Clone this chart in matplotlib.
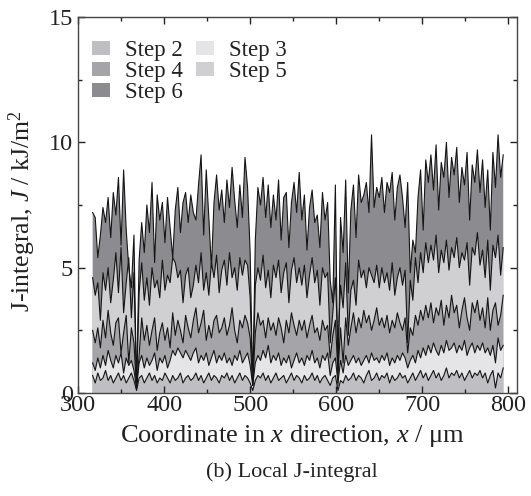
import numpy as np
import matplotlib
matplotlib.use("Agg")
import matplotlib.pyplot as plt
from matplotlib.patches import Patch
from matplotlib.ticker import MultipleLocator

plt.rcParams['font.family'] = ['Liberation Serif', 'DejaVu Serif']
plt.rcParams['mathtext.fontset'] = 'custom'
plt.rcParams['mathtext.rm'] = 'Liberation Serif'
plt.rcParams['mathtext.it'] = 'Liberation Serif:italic'

# ---- data ----
x_start = 317
x_step = 3

step6 = [7.2, 7.0, 5.4, 6.3, 7.4, 6.8, 7.8, 6.2, 8.0, 7.1, 8.6,
         5.9, 8.9, 6.5, 5.0, 4.2, 6.3, 0.2, 5.3, 6.8, 5.6,
         7.5, 6.4, 8.4, 5.2, 7.9, 6.9, 7.6, 6.0, 7.8, 6.6,
         5.4, 7.3, 8.2, 6.4, 7.6, 8.0, 6.8, 7.9, 7.2, 6.9,
         8.3, 9.5, 6.3, 8.9, 7.0, 5.0, 7.6, 8.7, 7.3, 8.1,
         6.8, 8.5, 7.4, 9.0, 7.7, 6.6, 8.3, 7.0, 9.4, 8.2,
         5.6, 0.3, 6.1, 8.2, 7.5, 8.6, 7.0, 8.3, 6.6, 7.9,
         6.9, 8.5, 6.1, 7.8, 8.0, 5.8, 7.6, 8.4, 7.2, 8.8,
         6.9, 7.9, 5.7, 7.4, 8.1, 6.8, 7.1, 5.8, 8.0, 6.9,
         7.6, 4.5, 3.6, 8.3, 0.3, 7.0, 5.6, 8.5, 4.0, 7.3,
         8.3, 6.2, 8.7, 7.6, 7.9, 8.4, 7.2, 10.3, 7.4, 8.2,
         7.8, 8.6, 7.2, 8.4, 8.0, 8.8, 6.9, 8.2, 8.7, 7.8,
         6.6, 8.4, 4.8, 6.1, 5.6, 7.8, 8.9, 6.5, 9.3, 8.4,
         9.5, 8.1, 9.9, 7.3, 9.2, 8.6, 10.0, 7.8, 9.4, 8.7,
         9.8, 7.6, 9.0, 8.3, 9.6, 6.9, 9.1, 8.4, 9.7, 8.0,
         9.3, 7.4, 8.9, 6.5, 9.6, 8.2, 10.3, 8.6, 9.5]

step5 = [4.6, 3.9, 4.4, 2.9, 4.8, 4.1, 5.0, 3.6, 4.5, 5.6, 4.0,
         5.8, 3.2, 4.4, 5.4, 3.0, 4.8, 0.2, 4.0, 5.2, 3.7,
         4.6, 3.5, 5.0, 4.2, 4.5, 3.8, 5.3, 4.1, 4.7, 4.4,
         5.4, 5.2, 4.6, 4.9, 3.6, 4.7, 5.0, 3.8, 4.3, 5.1,
         4.4, 5.6, 4.1, 4.8, 3.9, 5.2, 4.6, 5.5, 4.0, 4.9,
         5.3, 4.3, 5.6, 4.6, 5.0, 4.1, 5.4, 4.7, 5.3, 5.1,
         3.8, 0.3, 4.3, 5.0, 4.5, 5.5, 4.2, 4.9, 3.8, 5.1,
         4.6, 5.3, 4.0, 4.8, 5.2, 3.6, 4.9, 5.4, 4.4, 5.0,
         4.3, 5.1, 3.8, 4.7, 5.4, 4.4, 4.9, 3.5, 5.0, 4.6,
         4.8, 2.0, 3.2, 4.6, 1.8, 4.3, 3.4, 5.2, 2.3, 4.1,
         4.5, 3.5, 5.3, 4.6, 4.9, 4.2, 5.0, 4.7, 4.4, 5.1,
         4.2, 5.0, 4.4, 4.8, 4.1, 5.2, 3.9, 4.6, 5.0, 4.3,
         4.9, 2.0, 4.5, 3.7, 5.4, 4.4, 5.6, 4.8, 6.0, 5.2,
         5.9, 5.3, 6.3, 4.8, 5.7, 5.2, 6.1, 4.9, 5.8, 5.4,
         6.2, 5.0, 5.6, 5.3, 6.0, 4.3, 5.8, 5.5, 6.4, 5.1,
         5.7, 4.6, 6.1, 4.1, 5.9, 5.4, 6.3, 4.7, 5.8]

step4 = [2.5, 2.0, 2.6, 1.8, 2.9, 2.2, 3.3, 2.4, 1.9, 2.8, 3.0,
         1.6, 2.4, 3.1, 1.2, 2.6, 2.0, 0.2, 1.5, 3.0, 2.1,
         2.7, 1.9, 2.5, 3.0, 1.7, 2.4, 2.8, 2.1, 2.6, 1.8,
         3.2, 2.3, 2.9, 2.5, 2.0, 3.1, 2.6, 2.2, 2.9, 3.4,
         2.4, 2.8, 3.3, 2.1, 2.7, 2.2, 2.9, 3.1, 2.4, 2.6,
         3.0, 2.3, 2.7, 3.4, 2.5, 2.0, 2.9, 2.6, 3.1, 2.8,
         2.2, 0.3, 2.4, 3.2, 2.7, 2.9, 2.2, 3.0, 2.5, 2.8,
         2.3, 3.0, 2.6, 2.0, 2.9, 2.4, 3.2, 2.7, 2.3, 2.9,
         2.5, 2.9, 2.2, 2.7, 3.1, 2.4, 2.6, 2.1, 2.9, 2.5,
         2.7, 1.4, 2.3, 2.9, 0.8, 2.6, 1.2, 3.0, 1.9, 2.6,
         3.2, 2.4, 3.0, 2.6, 3.3, 2.8, 3.1, 2.5, 2.9, 3.4,
         2.7, 3.0, 2.6, 3.1, 2.4, 2.9, 2.6, 3.2, 2.8, 2.5,
         3.0, 1.6, 2.6, 2.3, 3.1, 2.7, 3.3, 2.9, 3.5, 3.0,
         3.6, 2.8, 3.4, 3.1, 3.7, 2.7, 3.5, 3.0, 3.9, 3.2,
         3.5, 2.6, 3.3, 3.8, 3.0, 2.5, 3.6, 3.2, 3.7, 2.9,
         3.4, 2.6, 3.8, 2.5, 3.3, 3.6, 2.7, 3.1, 3.9]

step3 = [1.2, 0.9, 1.4, 1.0, 1.5, 1.1, 1.7, 1.3, 1.0, 1.5, 1.2,
         1.6, 0.8, 1.4, 1.1, 1.3, 0.9, 0.2, 1.2, 1.5, 1.0,
         1.4, 1.1, 1.3, 1.6, 0.9, 1.4, 1.2, 1.5, 1.0, 1.3,
         1.7, 1.5, 1.8, 1.6, 1.4, 1.7, 1.5, 1.3, 1.6, 1.8,
         1.2, 1.5, 1.3, 1.6, 1.1, 1.4, 1.7, 1.2, 1.5, 1.3,
         1.6, 1.2, 1.4, 1.1, 1.5, 1.3, 1.7, 1.2, 1.4, 1.6,
         1.1, 0.3, 1.2, 1.5, 1.3, 1.7, 1.4, 1.9, 1.2, 1.5,
         1.3, 1.6, 1.1, 1.4, 1.2, 1.5, 1.0, 1.3, 1.6, 1.2,
         1.4, 1.1, 1.5, 1.3, 1.7, 1.2, 1.4, 1.0, 1.5, 1.3,
         1.6, 0.7, 1.2, 1.4, 0.4, 1.3, 0.8, 1.5, 1.1, 1.3,
         1.5, 1.2, 1.4, 1.1, 1.3, 1.5, 1.2, 1.6, 1.3, 1.4,
         1.2, 1.5, 1.3, 1.6, 1.1, 1.4, 1.2, 1.5, 1.3, 1.6,
         1.4, 1.0, 1.3, 1.5, 1.2, 1.7, 1.4, 1.8, 1.5, 1.9,
         1.6, 2.0, 1.7, 1.5, 1.9, 1.6, 2.1, 1.7, 1.8, 2.0,
         1.6, 1.9, 1.7, 2.1, 1.5, 1.8, 2.0, 1.6, 1.9, 1.7,
         2.0, 1.6, 1.8, 1.5, 1.9, 1.2, 2.2, 1.7, 1.9]

step2 = [0.7, 0.4, 0.8, 0.5, 0.6, 0.9, 0.5, 0.7, 0.4, 0.6, 0.8,
         0.5, 0.7, 0.4, 0.6, 0.8, 0.5, 0.1, 0.6, 0.7, 0.4,
         0.6, 0.8, 0.5, 0.7, 0.4, 0.6, 0.5, 0.8, 0.6, 0.4,
         0.7, 0.5, 0.6, 0.8, 0.4, 0.6, 0.7, 0.5, 0.6, 0.8,
         0.5, 0.7, 0.4, 0.6, 0.8, 0.5, 0.7, 0.6, 0.4, 0.7,
         0.6, 0.8, 0.5, 0.7, 0.4, 0.6, 0.8, 0.5, 0.7, 0.6,
         0.4, 0.1, 0.5, 0.7, 0.6, 0.8, 0.5, 0.7, 0.4, 0.6,
         0.8, 0.5, 0.6, 0.7, 0.4, 0.6, 0.8, 0.5, 0.7, 0.6,
         0.4, 0.7, 0.5, 0.6, 0.8, 0.5, 0.7, 0.4, 0.6, 0.7,
         0.5, 0.3, 0.6, 0.7, 0.1, 0.5, 0.4, 0.7, 0.5, 0.6,
         0.8, 0.5, 0.7, 0.6, 0.4, 0.7, 0.9, 0.5, 0.6, 0.8,
         0.5, 0.7, 0.6, 0.8, 0.4, 0.7, 0.5, 0.6, 0.8, 0.6,
         0.7, 0.4, 0.6, 0.8, 0.5, 0.7, 0.9, 0.6, 0.8, 0.5,
         0.7, 0.9, 0.6, 0.8, 0.5, 0.7, 1.0, 0.6, 0.8, 0.7,
         0.9, 0.6, 0.8, 0.5, 0.7, 0.9, 0.6, 0.8, 0.7, 0.9,
         0.6, 0.8, 0.4, 0.7, 0.9, 0.2, 0.8, 0.6, 1.0]

labels = ["Step 2", "Step 3", "Step 4", "Step 5", "Step 6"]
series = [step2, step3, step4, step5, step6]
colors = ["#bfbfc3", "#e5e5e7", "#a5a5a9", "#d0d0d3", "#8c8c90"]

n = len(step6)
x = x_start + x_step * np.arange(n)

fig = plt.figure(figsize=(5.31, 4.96), dpi=100)
ax = fig.add_axes([78/531, 1-393/496, (517-78)/531, (393-17)/496])

# draw largest first so smaller steps overlay
for lab, ys, col in reversed(list(zip(labels, series, colors))):
    ax.fill_between(x, 0, ys, facecolor=col, edgecolor='none', zorder=1)
for ys in series[::-1]:
    ax.plot(x, ys, color='#151515', lw=0.8, zorder=2)

ax.set_xlim(300, 810)
ax.set_ylim(0, 15)
ax.xaxis.set_major_locator(MultipleLocator(100))
ax.xaxis.set_minor_locator(MultipleLocator(50))
ax.yaxis.set_major_locator(MultipleLocator(5))
ax.yaxis.set_minor_locator(MultipleLocator(2.5))
ax.tick_params(which='both', direction='in', top=True, right=True,
               labelsize=17.5, colors='#222222')
ax.tick_params(which='major', length=5, width=1.0)
ax.tick_params(which='minor', length=3, width=1.0)
ax.tick_params(axis='x', pad=1.5)
ax.tick_params(axis='y', pad=3.5)
for s in ax.spines.values():
    s.set_color('#444444')
    s.set_linewidth(1.0)

fig.text(292/531, 1-436/496, r"Coordinate in $x$ direction, $x$ / μm",
         ha='center', va='center', fontsize=19, color='#222222')
fig.text(22/531, 1-211/496, r"J-integral, $J$ / kJ/m$^2$", rotation=90,
         ha='center', va='center', fontsize=18.5, color='#222222')
fig.text(292/531, 1-472/496, "(b) Local J-integral",
         ha='center', va='center', fontsize=16, color='#222222')

order = [0, 2, 4, 1, 3]
handles = [Patch(facecolor=colors[i], edgecolor='none') for i in order]
leg = ax.legend(handles, [labels[i] for i in order], ncol=2,
                loc='upper left', bbox_to_anchor=(14/439, 1-23/376),
                frameon=False, fontsize=16.5, handlelength=0.78, handleheight=0.6,
                handletextpad=0.65, columnspacing=0.6, labelspacing=0.0,
                borderpad=0, borderaxespad=0)
for t in leg.get_texts():
    t.set_color('#222222')

fig.savefig("out.png", dpi=100)
